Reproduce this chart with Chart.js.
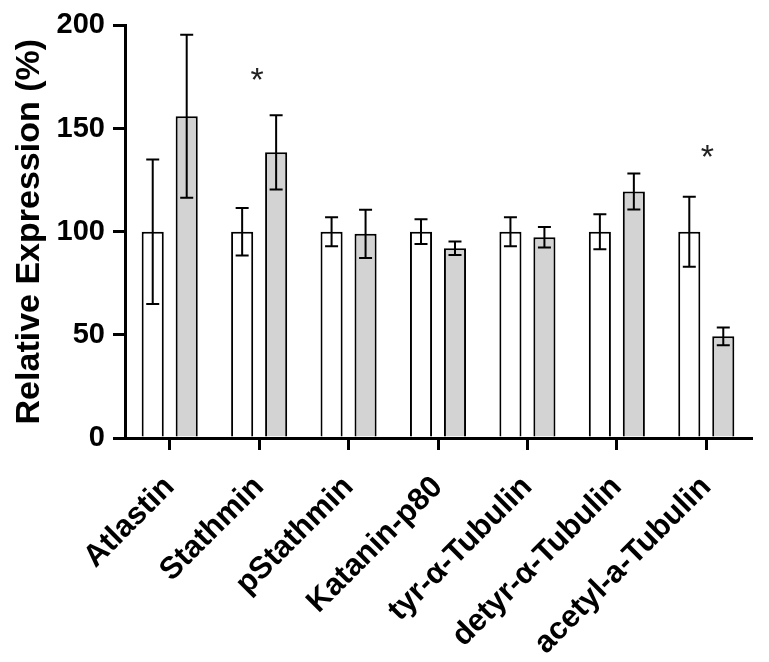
<!DOCTYPE html>
<html>
<head>
<meta charset="utf-8">
<script src="https://cdn.jsdelivr.net/npm/chart.js@4"></script>
<style>
  html, body { margin: 0; padding: 0; background: #fff; }
  #wrap { width: 769px; height: 662px; }
</style>
</head>
<body>
<div id="wrap"><canvas id="chart" width="769" height="662"></canvas></div>
<script>
// ── DATA
const categories = ["Atlastin", "Stathmin", "pStathmin", "Katanin-p80", "tyr-α-Tubulin", "detyr-α-Tubulin", "acetyl-a-Tubulin"];
const controlValues = [100, 100, 100, 100, 100, 100, 100];
const controlErrors = [35, 11.5, 7, 6, 7, 8.5, 17];
const treatedValues = [156, 138.5, 99, 92, 97.3, 119.5, 49.3];
const treatedErrors = [39.5, 18, 11.7, 3.3, 5, 8.7, 4.3];
const sigMarks = ["", "*", "", "", "", "", "*"];
const sigHeights = [null, 168, null, null, null, null, 131];
const yTicks = [0, 50, 100, 150, 200];

const FONT = "'Liberation Sans', Arial, Helvetica, sans-serif";

// ── ERROR BARS + ASTERISKS
const errorBarPlugin = {
  id: "errorBars",
  afterDatasetsDraw(chart) {
    const ctx = chart.ctx;
    const y = chart.scales.y;
    const errs = [controlErrors, treatedErrors];
    ctx.save();
    ctx.strokeStyle = "#000";
    ctx.lineWidth = 2;
    chart.data.datasets.forEach((ds, di) => {
      const meta = chart.getDatasetMeta(di);
      meta.data.forEach((bar, i) => {
        const v = ds.data[i];
        const e = errs[di][i];
        const top = y.getPixelForValue(v + e);
        const bot = y.getPixelForValue(v - e);
        const cap = 6.5;
        ctx.beginPath();
        ctx.moveTo(bar.x, top);
        ctx.lineTo(bar.x, bot);
        ctx.moveTo(bar.x - cap, top);
        ctx.lineTo(bar.x + cap, top);
        ctx.moveTo(bar.x - cap, bot);
        ctx.lineTo(bar.x + cap, bot);
        ctx.stroke();
      });
    });

    // significance marks centred on each category
    const x = chart.scales.x;
    ctx.fillStyle = "#222";
    ctx.font = "34px " + FONT;
    ctx.textAlign = "center";
    ctx.textBaseline = "alphabetic";
    sigMarks.forEach((m, i) => {
      if (!m) return;
      const dx = i === 1 ? -2 : 1;
      ctx.fillText(m, x.getPixelForValue(i) + dx, y.getPixelForValue(sigHeights[i]));
    });
    ctx.restore();
  }
};

new Chart(document.getElementById("chart"), {
  type: "bar",
  data: {
    labels: categories,
    datasets: [
      {
        label: "Control",
        data: controlValues,
        backgroundColor: "#ffffff",
        borderColor: "#000",
        borderWidth: 2,
        categoryPercentage: 0.76,
        barPercentage: 0.65,
      },
      {
        label: "Treated",
        data: treatedValues,
        backgroundColor: "#d3d3d3",
        borderColor: "#000",
        borderWidth: 2,
        categoryPercentage: 0.76,
        barPercentage: 0.65,
      },
    ],
  },
  options: {
    responsive: false,
    animation: false,
    layout: { padding: { top: 23, right: 18, left: 0, bottom: 0 } },
    plugins: {
      legend: { display: false },
      tooltip: { enabled: false },
    },
    scales: {
      x: {
        offset: true,
        grid: {
          display: true,
          offset: false,
          drawOnChartArea: false,
          drawTicks: true,
          tickLength: 12,
          lineWidth: 3,
          color: "#000",
        },
        border: { display: true, width: 3, color: "#000" },
        ticks: {
          autoSkip: false,
          maxRotation: 45,
          minRotation: 45,
          padding: 19,
          color: "#000",
          font: { family: FONT, size: 31, weight: "bold" },
        },
        afterFit(scale) { scale.height = 224; },
      },
      y: {
        min: 0,
        max: 200,
        afterBuildTicks(scale) { scale.ticks = yTicks.map((v) => ({ value: v })); },
        grid: {
          display: true,
          drawOnChartArea: false,
          drawTicks: true,
          tickLength: 12,
          lineWidth: 3,
          color: "#000",
        },
        border: { display: true, width: 3, color: "#000" },
        ticks: {
          padding: 8,
          color: "#000",
          font: { family: FONT, size: 29, weight: "bold" },
        },
        title: {
          display: true,
          text: "Relative Expression (%)",
          color: "#000",
          padding: { top: 9, bottom: 0 },
          font: { family: FONT, size: 34, weight: "bold" },
        },
        afterFit(scale) { scale.width = 125; },
      },
    },
  },
  plugins: [errorBarPlugin],
});
</script>
</body>
</html>
